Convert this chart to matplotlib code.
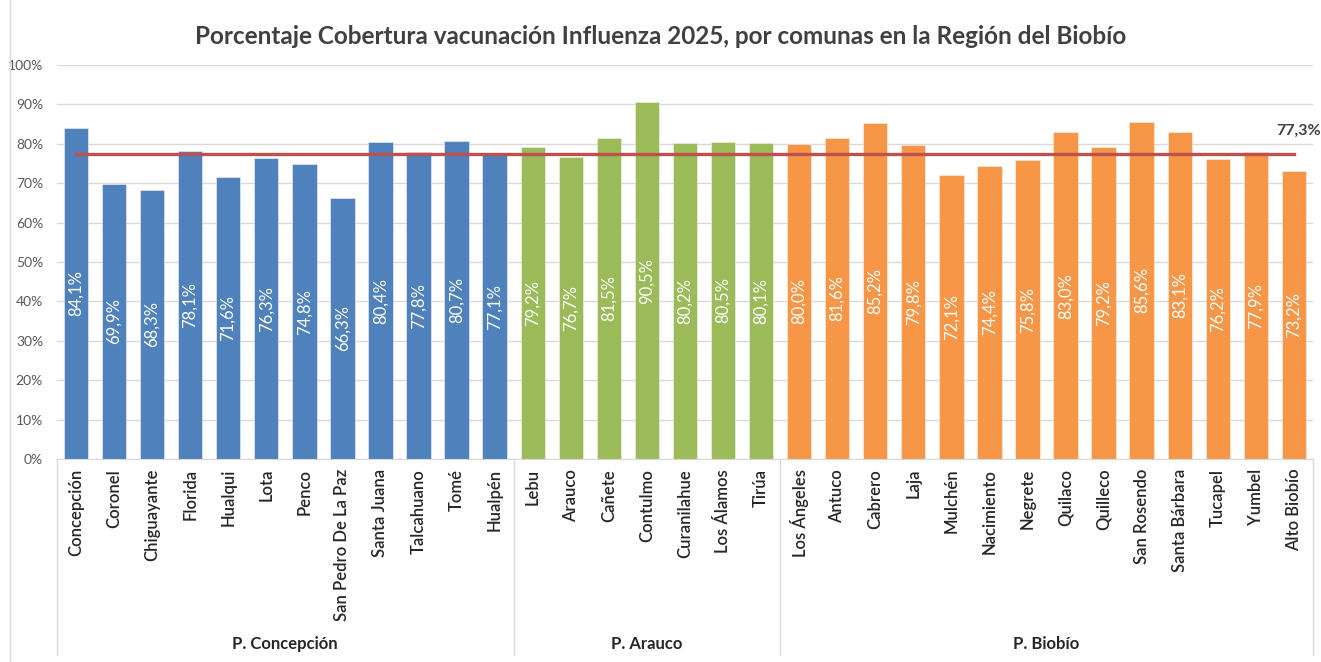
import matplotlib.pyplot as plt
import matplotlib.transforms as mtransforms
import numpy as np

plt.rcParams['font.family'] = ['Lato', 'DejaVu Sans']

# data
comunas_concepcion = ["Concepción", "Coronel", "Chiguayante", "Florida", "Hualqui", "Lota",
                      "Penco", "San Pedro De La Paz", "Santa Juana", "Talcahuano", "Tomé", "Hualpén"]
valores_concepcion = [84.1, 69.9, 68.3, 78.1, 71.6, 76.3, 74.8, 66.3, 80.4, 77.8, 80.7, 77.1]

comunas_arauco = ["Lebu", "Arauco", "Cañete", "Contulmo", "Curanilahue", "Los Álamos", "Tirúa"]
valores_arauco = [79.2, 76.7, 81.5, 90.5, 80.2, 80.5, 80.1]

comunas_biobio = ["Los Ángeles", "Antuco", "Cabrero", "Laja", "Mulchén", "Nacimiento", "Negrete",
                  "Quilaco", "Quilleco", "San Rosendo", "Santa Bárbara", "Tucapel", "Yumbel", "Alto Biobío"]
valores_biobio = [80.0, 81.6, 85.2, 79.8, 72.1, 74.4, 75.8, 83.0, 79.2, 85.6, 83.1, 76.2, 77.9, 73.2]

provincias = ["P. Concepción", "P. Arauco", "P. Biobío"]
promedio_regional = 77.3

colores = ["#4f81bd", "#9bbb59", "#f79646"]

fig = plt.figure(figsize=(13.21, 6.62), dpi=100)
ax = fig.add_axes([0.0431, 0.3066, 0.9508, 0.5952])

grupos = [(comunas_concepcion, valores_concepcion), (comunas_arauco, valores_arauco),
          (comunas_biobio, valores_biobio)]

nombres = []
inicio = 0
limites = [-0.5]
for (nom, vals), col, prov in zip(grupos, colores, provincias):
    x = np.arange(inicio, inicio + len(vals))
    ax.bar(x, np.array(vals) / 100, width=0.64, color=col, edgecolor="#f4f4f4",
           linewidth=0.4, zorder=2)
    for xi, v in zip(x, vals):
        ax.text(xi, v / 200, f"{v:.1f}%".replace(".", ","), rotation=90,
                ha="center", va="center", color="white", fontsize=12, zorder=3)
    nombres += nom
    inicio += len(vals)
    limites.append(inicio - 0.5)

n = len(nombres)
ax.plot([0, n - 1], [promedio_regional / 100] * 2, color="#c0504d", lw=2.4, zorder=4)
ax.text(n - 0.3, promedio_regional / 100 + 0.06, f"{promedio_regional:.1f}%".replace(".", ","),
        ha="right", va="center", fontsize=11.5, fontweight="bold", color="#404040")

ax.set_xlim(-0.5, n - 0.5)
ax.set_ylim(0, 1)
ax.set_yticks(np.arange(0, 1.01, 0.1))
ax.set_yticklabels([f"{int(round(t * 100))}%" for t in np.arange(0, 1.01, 0.1)],
                   fontsize=10, color="#595959")
ax.yaxis.grid(True, color="#d9d9d9", lw=1)
ax.set_axisbelow(True)
ax.tick_params(axis="y", length=0, pad=10)

ax.set_xticks(np.arange(n))
ax.set_xticklabels(nombres, rotation=90, fontsize=12, color="#262626", va="top",
                   fontweight="semibold")
ax.tick_params(axis="x", length=0, pad=7)

for s in ["top", "right", "left"]:
    ax.spines[s].set_visible(False)
ax.spines["bottom"].set_color("#d9d9d9")

# group separators and labels
trans = mtransforms.blended_transform_factory(ax.transData, ax.transAxes)
for b in limites:
    ax.plot([b, b], [0, -0.497], color="#d9d9d9", lw=1, transform=trans, clip_on=False)
for i, prov in enumerate(provincias):
    ax.text((limites[i] + limites[i + 1]) / 2, -0.47, prov, transform=trans,
            ha="center", va="center", fontsize=12, fontweight="bold", color="#262626")

fig.text(0.5, 0.945, "Porcentaje Cobertura vacunación Influenza 2025, por comunas en la Región del Biobío",
         ha="center", va="center", fontsize=17.5, fontweight="bold", color="#404040")

fig.add_artist(plt.Line2D([10 / 1321, 10 / 1321], [0, 1], color="#d9d9d9", lw=1))

fig.savefig("out.png", dpi=100)
